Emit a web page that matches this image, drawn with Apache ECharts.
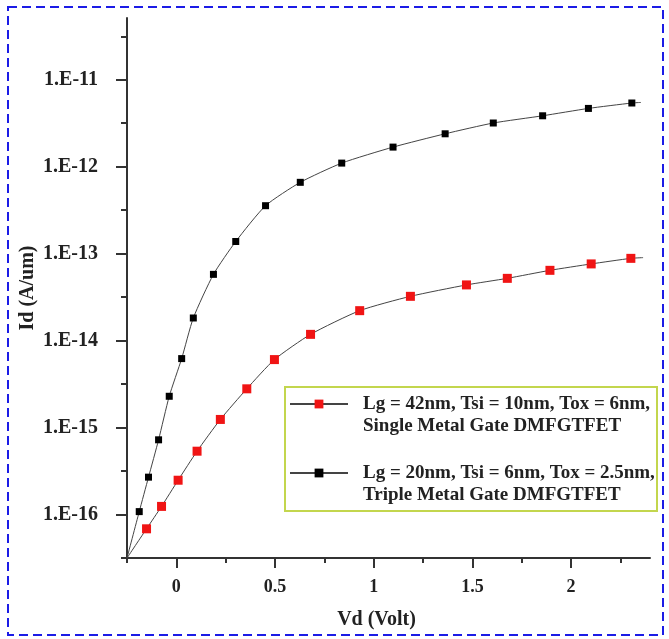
<!DOCTYPE html>
<html>
<head>
<meta charset="utf-8">
<script src="https://cdn.jsdelivr.net/npm/echarts@6/dist/echarts.min.js"></script>
<style>
html, body { margin: 0; padding: 0; background: #fff; }
#main { width: 669px; height: 639px; }
</style>
</head>
<body>
<div id="main"></div>
<script>
// Lg = 42nm, single metal gate (red squares)
const vdRed = [-0.25, -0.151, -0.075, 0.009, 0.105, 0.223, 0.357, 0.497, 0.680, 0.929, 1.186, 1.47, 1.677, 1.893, 2.102, 2.303, 2.365]
const idRed = [3.16e-17, 6.85e-17, 1.24e-16, 2.48e-16, 5.35e-16, 1.24e-15, 2.79e-15, 6.05e-15, 1.18e-14, 2.21e-14, 3.23e-14, 4.37e-14, 5.20e-14, 6.43e-14, 7.62e-14, 8.83e-14, 9.0e-14]

// Lg = 20nm, triple metal gate (black squares)
const vdBlack = [-0.25, -0.188, -0.141, -0.090, -0.036, 0.027, 0.086, 0.188, 0.301, 0.452, 0.628, 0.838, 1.098, 1.362, 1.606, 1.856, 2.088, 2.308, 2.354]
const idBlack = [3.16e-17, 1.08e-16, 2.69e-16, 7.23e-16, 2.29e-15, 6.21e-15, 1.82e-14, 5.78e-14, 1.38e-13, 3.56e-13, 6.61e-13, 1.10e-12, 1.68e-12, 2.39e-12, 3.18e-12, 3.85e-12, 4.68e-12, 5.40e-12, 5.48e-12]

const seriesNames = [
    'Lg = 42nm, Tsi = 10nm, Tox = 6nm,\nSingle Metal Gate DMFGTFET',
    'Lg = 20nm, Tsi = 6nm, Tox = 2.5nm,\nTriple Metal Gate DMFGTFET'
]

// axis ticks (y in decades)
const xTicks = [0, 0.5, 1, 1.5, 2]
const xTickLabels = ['0', '0.5', '1', '1.5', '2']
const xMinorTicks = [-0.25, 0.25, 0.75, 1.25, 1.75, 2.25]
const yDecades = [-16, -15, -14, -13, -12, -11]
const yTickLabels = ['1.E-16', '1.E-15', '1.E-14', '1.E-13', '1.E-12', '1.E-11']
const yMinorTicks = [-16.5, -15.5, -14.5, -13.5, -12.5, -11.5, -10.5]

const chart = echarts.init(document.getElementById('main'))

// log-scale points, first and last only close the curve (no marker)
function toPoints (xs, ys) {
    return xs.map((x, i) => {
        const p = { value: [x, Math.log10(ys[i])] }
        if (i === 0 || i === xs.length - 1) p.symbol = 'none'
        return p
    })
}

const labelFont = { fontFamily: 'Liberation Serif', fontWeight: 'bold', color: '#222' }

const option = {
    animation: false,
    backgroundColor: '#fff',
    grid: { left: 127, right: 19, top: 18, bottom: 81 },
    legend: {
        orient: 'vertical',
        left: 289,
        top: 371,
        padding: 0,
        itemWidth: 58,
        itemHeight: 11,
        itemGap: 3,
        data: seriesNames,
        // blank first line keeps the icon level with the first text line
        formatter: name => ' \n' + name,
        textStyle: {
            fontFamily: 'Liberation Serif', fontWeight: 'bold', fontSize: 19,
            lineHeight: 22, color: '#222', padding: [0, 0, 0, 10]
        }
    },
    graphic: [
        {
            type: 'rect',
            shape: { x: 8, y: 7, width: 655, height: 628 },
            style: { fill: 'none', stroke: '#1c1ce6', lineWidth: 2, lineDash: [9, 5] }
        },
        {
            type: 'rect',
            shape: { x: 285, y: 387, width: 372, height: 124 },
            style: { fill: 'none', stroke: '#c3d64e', lineWidth: 2 }
        }
    ],
    xAxis: [
        {
            type: 'value',
            min: -0.25,
            max: 2.4,
            name: 'Vd (Volt)',
            nameLocation: 'middle',
            nameGap: 52,
            nameMoveOverlap: false,
            nameTextStyle: { ...labelFont, fontSize: 20, padding: [0, 24, 0, 0] },
            axisLine: { show: true, onZero: false, lineStyle: { color: '#333', width: 2 } },
            axisTick: { show: true, length: 10, customValues: xTicks, lineStyle: { color: '#333', width: 2 } },
            axisLabel: {
                ...labelFont, fontSize: 18, margin: 20,
                customValues: xTicks,
                formatter: v => xTickLabels[xTicks.indexOf(v)]
            },
            splitLine: { show: false }
        },
        {
            type: 'value',
            min: -0.25,
            max: 2.4,
            position: 'bottom',
            axisLine: { show: false, onZero: false },
            axisTick: { show: true, length: 5, customValues: xMinorTicks, lineStyle: { color: '#333', width: 2 } },
            axisLabel: { show: false },
            splitLine: { show: false }
        }
    ],
    yAxis: [
        {
            type: 'value',
            min: -16.5,
            max: -10.29,
            name: 'Id (A/um)',
            nameLocation: 'middle',
            nameRotate: 90,
            nameGap: 89,
            nameMoveOverlap: false,
            nameTextStyle: { ...labelFont, fontSize: 20 },
            axisLine: { show: true, onZero: false, lineStyle: { color: '#333', width: 2 } },
            axisTick: { show: true, length: 11, customValues: yDecades, lineStyle: { color: '#333', width: 2 } },
            axisLabel: {
                ...labelFont, fontSize: 20, margin: 29,
                customValues: yDecades,
                formatter: v => yTickLabels[yDecades.indexOf(v)]
            },
            splitLine: { show: false }
        },
        {
            type: 'value',
            min: -16.5,
            max: -10.29,
            position: 'left',
            axisLine: { show: false, onZero: false },
            axisTick: { show: true, length: 6, customValues: yMinorTicks, lineStyle: { color: '#333', width: 2 } },
            axisLabel: { show: false },
            splitLine: { show: false }
        }
    ],
    series: [
        {
            name: seriesNames[0],
            type: 'line',
            data: toPoints(vdRed, idRed),
            smooth: 0.2,
            symbol: 'rect',
            symbolSize: 9,
            lineStyle: { color: '#444', width: 1 },
            itemStyle: { color: '#f01414' },
            z: 3
        },
        {
            name: seriesNames[1],
            type: 'line',
            data: toPoints(vdBlack, idBlack),
            smooth: 0.2,
            symbol: 'rect',
            symbolSize: 7,
            lineStyle: { color: '#444', width: 1 },
            itemStyle: { color: '#000' },
            z: 4
        }
    ]
}

chart.setOption(option)
</script>
</body>
</html>
